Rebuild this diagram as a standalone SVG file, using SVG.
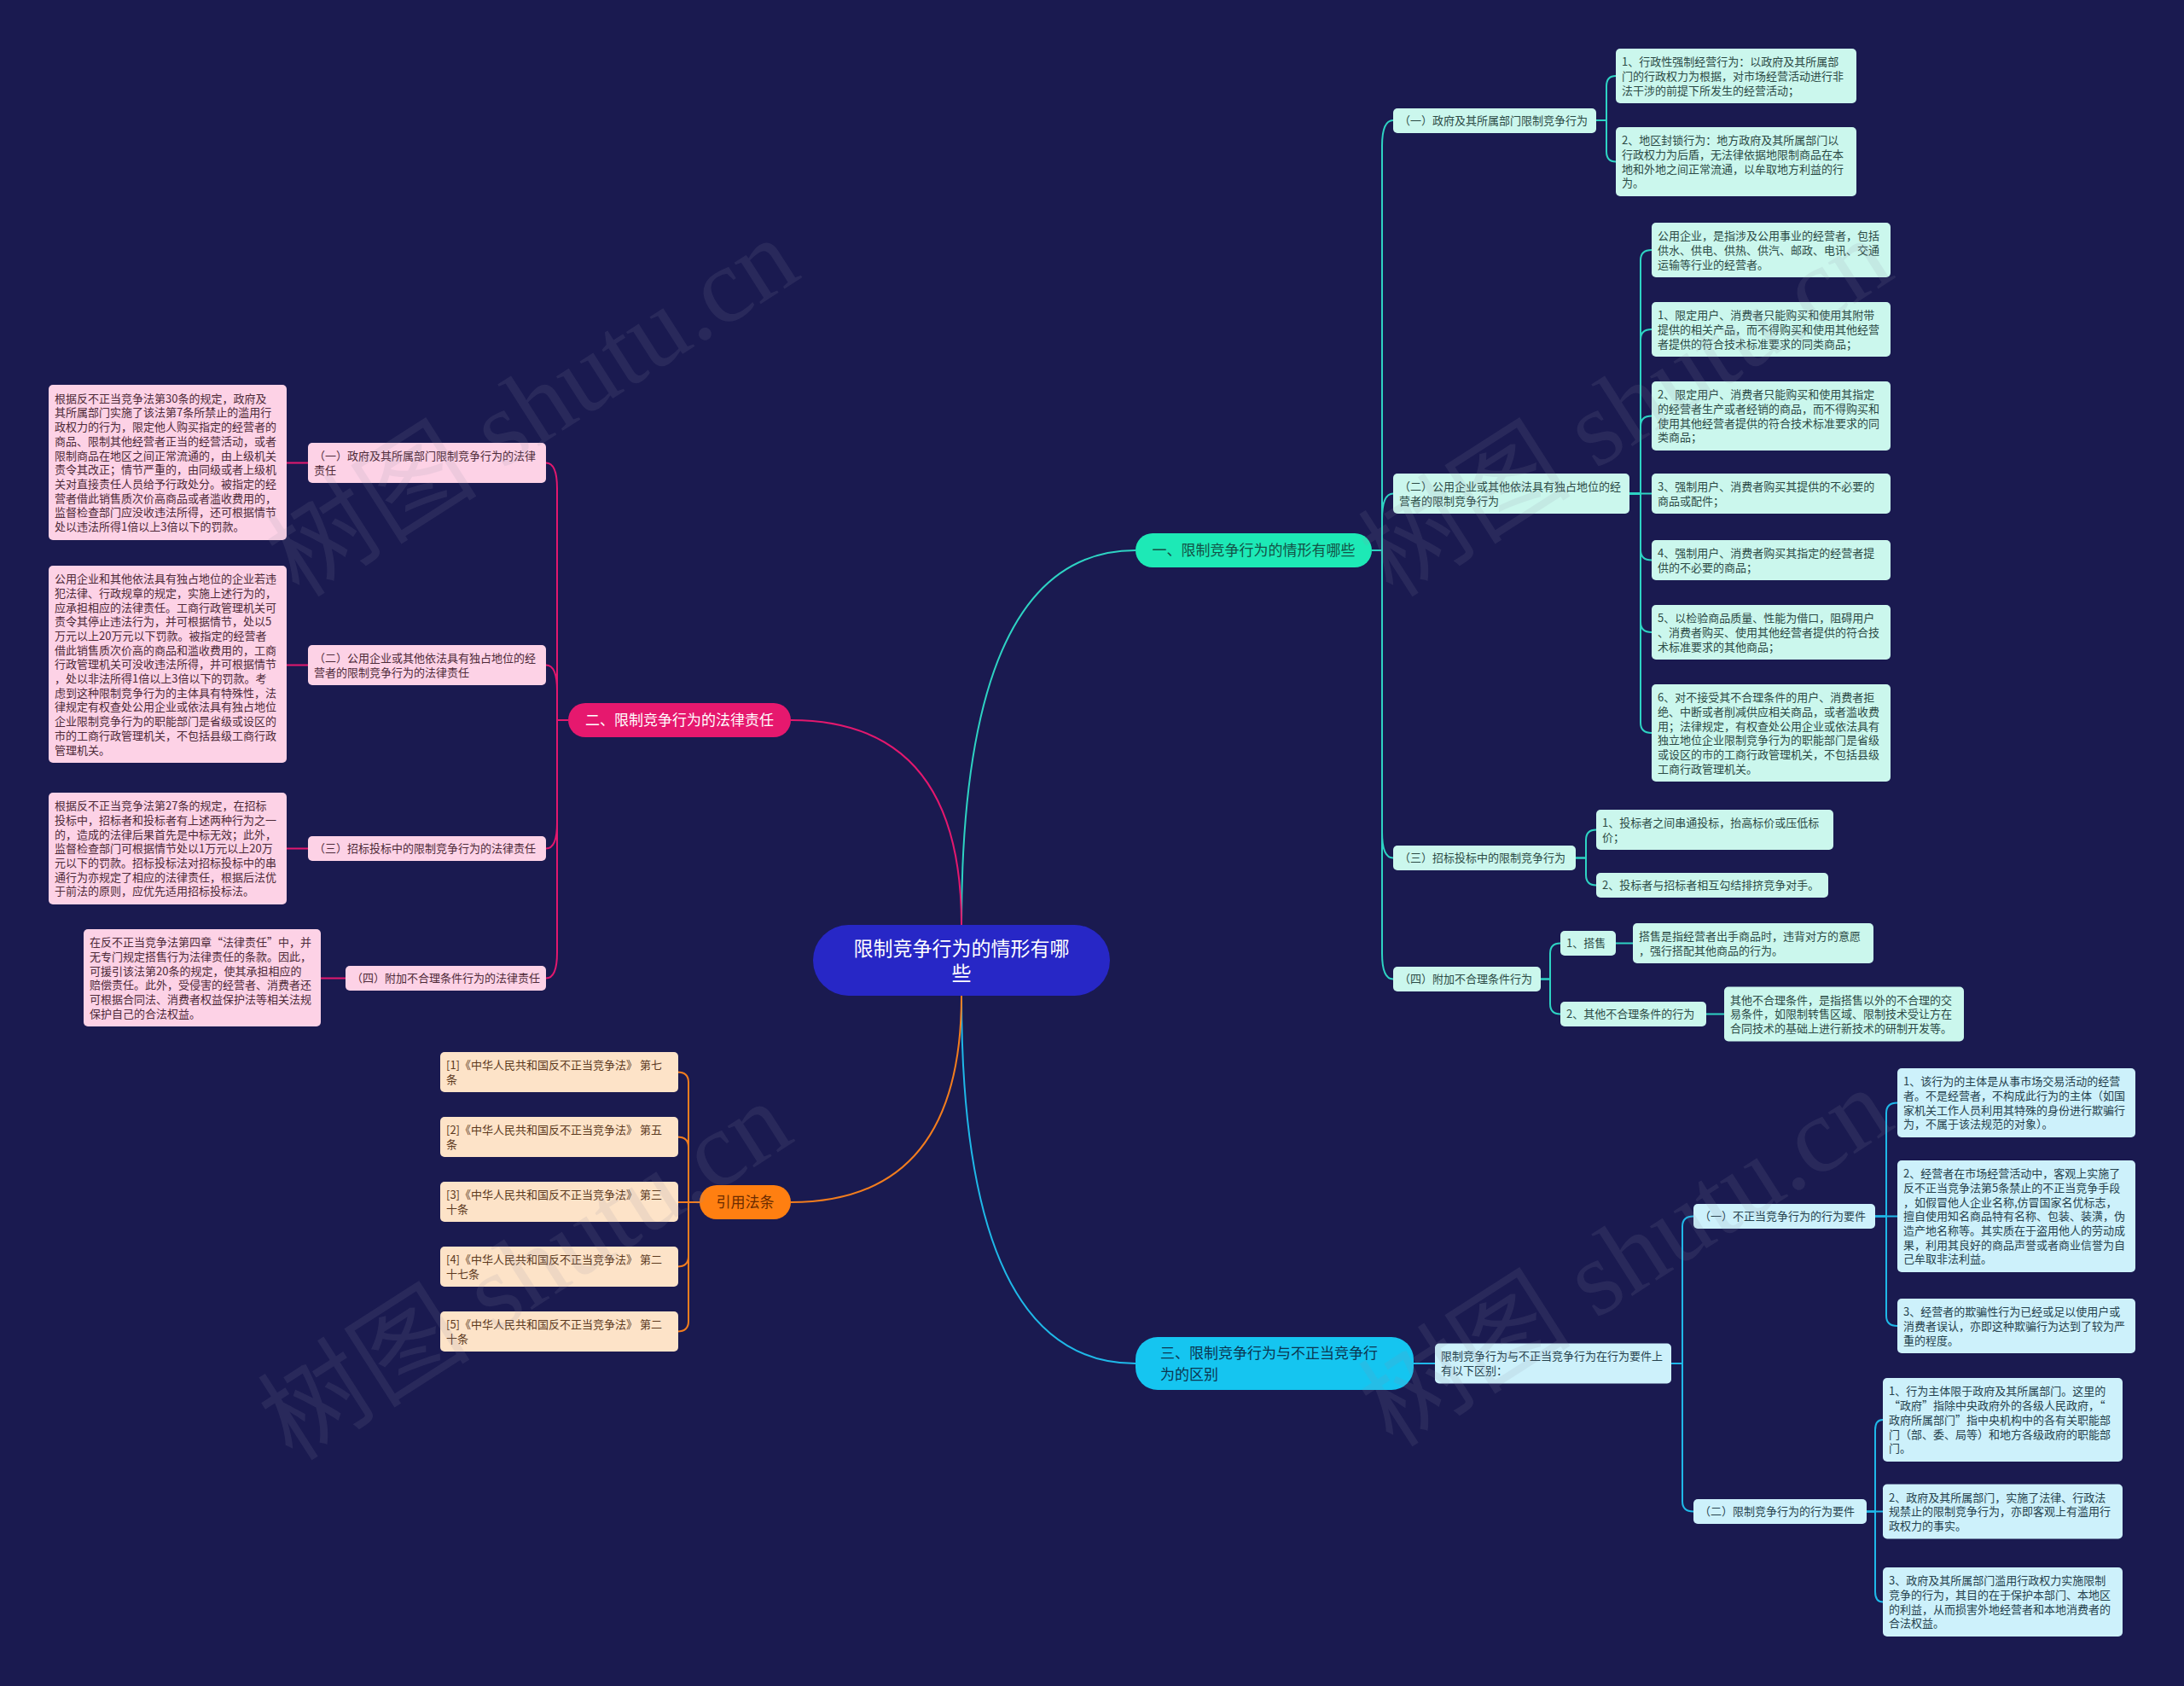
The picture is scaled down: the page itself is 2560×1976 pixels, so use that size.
<svg xmlns="http://www.w3.org/2000/svg" width="2560" height="1976" viewBox="0 0 2560 1976">
<style>
text{font-family:"Noto Sans CJK SC","Noto Sans",sans-serif}
.t{font-size:13px}
.mint{fill:#cbf7ed}.mt{fill:#2b4a45}
.cyb{fill:#cdf1fb}.ct{fill:#25414d}
.pkb{fill:#fdd2e6}.pt{fill:#4d2a38}
.orb{fill:#fde3c8}.ot{fill:#5c3a1e}
.c{fill:none;stroke-width:2}
.ct1{stroke:#2ed3c3}.ct2{stroke:#e3186e}.ct3{stroke:#1fb8e8}.ct4{stroke:#f27d1e}
text.wm{font-family:"Liberation Serif","Noto Sans CJK SC",serif;font-size:125px;fill:#9090a8;opacity:0.13}
</style>
<rect width="2560" height="1976" fill="#1a1a50"/>

<g id="connectors">
<path class="c ct1" d="M1127 1084 Q1127 645 1331 645"/>
<path class="c ct2" d="M1127 1084 Q1127 844 927 844"/>
<path class="c ct3" d="M1127 1167 Q1127 1598 1331 1598"/>
<path class="c ct4" d="M1127 1167 Q1127 1409 927 1409"/>
<path class="c ct1" d="M1608 645 H1620 V171 Q1620 141 1633 141"/>
<path class="c ct1" d="M1608 645 H1620 V608.5 Q1620 578.5 1633 578.5"/>
<path class="c ct1" d="M1608 645 H1620 V975.5 Q1620 1005.5 1633 1005.5"/>
<path class="c ct1" d="M1608 645 H1620 V1117.5 Q1620 1147.5 1633 1147.5"/>
<path class="c ct1" d="M1871 141 H1883 V101 Q1883 89 1894 89"/>
<path class="c ct1" d="M1871 141 H1883 V177.5 Q1883 189.5 1894 189.5"/>
<path class="c ct1" d="M1910 578.5 H1923 V305 Q1923 293 1936 293"/>
<path class="c ct1" d="M1910 578.5 H1923 V398 Q1923 386 1936 386"/>
<path class="c ct1" d="M1910 578.5 H1923 V499.5 Q1923 487.5 1936 487.5"/>
<path class="c ct1" d="M1910 578.5 H1936"/>
<path class="c ct1" d="M1910 578.5 H1923 V644.5 Q1923 656.5 1936 656.5"/>
<path class="c ct1" d="M1910 578.5 H1923 V729 Q1923 741 1936 741"/>
<path class="c ct1" d="M1910 578.5 H1923 V847 Q1923 859 1936 859"/>
<path class="c ct1" d="M1847 1005.5 H1859 V984.5 Q1859 972.5 1871 972.5"/>
<path class="c ct1" d="M1847 1005.5 H1859 V1025.5 Q1859 1037.5 1871 1037.5"/>
<path class="c ct1" d="M1806 1147.5 H1817 V1117.5 Q1817 1105.5 1829 1105.5"/>
<path class="c ct1" d="M1806 1147.5 H1817 V1176.5 Q1817 1188.5 1829 1188.5"/>
<path class="c ct1" d="M1894 1105.5 H1914"/>
<path class="c ct1" d="M2000 1188.5 H2021"/>
<path class="c ct3" d="M1657 1598 H1682"/>
<path class="c ct3" d="M1959 1598 H1972 V1437.5 Q1972 1425.5 1985 1425.5"/>
<path class="c ct3" d="M1959 1598 H1972 V1759.5 Q1972 1771.5 1985 1771.5"/>
<path class="c ct3" d="M2198 1425.5 H2211 V1304.5 Q2211 1292.5 2224 1292.5"/>
<path class="c ct3" d="M2198 1425.5 H2224"/>
<path class="c ct3" d="M2198 1425.5 H2211 V1542 Q2211 1554 2224 1554"/>
<path class="c ct3" d="M2188 1771.5 H2198 V1676 Q2198 1664 2207 1664"/>
<path class="c ct3" d="M2188 1771.5 H2207"/>
<path class="c ct3" d="M2188 1771.5 H2198 V1865.5 Q2198 1877.5 2207 1877.5"/>
<path class="c ct2" d="M666 844 H653 V572.5 Q653 542.5 640 542.5"/>
<path class="c ct2" d="M666 844 H653 V809.5 Q653 779.5 640 779.5"/>
<path class="c ct2" d="M666 844 H653 V964.5 Q653 994.5 640 994.5"/>
<path class="c ct2" d="M666 844 H653 V1116.5 Q653 1146.5 640 1146.5"/>
<path class="c ct2" d="M361 542.5 H336"/>
<path class="c ct2" d="M361 779.5 H336"/>
<path class="c ct2" d="M361 994.5 H336"/>
<path class="c ct2" d="M405 1146.5 H376"/>
<path class="c ct4" d="M820 1409 H807 V1268.5 Q807 1256.5 794 1256.5"/>
<path class="c ct4" d="M820 1409 H807 V1344.5 Q807 1332.5 794 1332.5"/>
<path class="c ct4" d="M820 1409 H794"/>
<path class="c ct4" d="M820 1409 H807 V1472.5 Q807 1484.5 794 1484.5"/>
<path class="c ct4" d="M820 1409 H807 V1548.5 Q807 1560.5 794 1560.5"/>
</g>

<g id="root">
<rect x="953" y="1084" width="348" height="83" rx="41.5" fill="#2727c6"/>
<text font-size="23" fill="#ffffff" text-anchor="middle"><tspan x="1127" y="1119.7">限制竞争行为的情形有哪</tspan><tspan x="1127" y="1148.7">些</tspan></text>
</g>

<g id="branch1">
<rect x="1331" y="625" width="277" height="40" rx="20" fill="#1de9b6"/>
<text x="1469.5" y="651" font-size="17" fill="#135246" text-anchor="middle">一、限制竞争行为的情形有哪些</text>
</g>
<g id="branch2">
<rect x="666" y="824" width="261" height="40" rx="20" fill="#e6186e"/>
<text x="796.5" y="850" font-size="17" fill="#ffffff" text-anchor="middle">二、限制竞争行为的法律责任</text>
</g>
<g id="branch3">
<rect x="1331" y="1567" width="326" height="62" rx="26" fill="#15c5f0"/>
<text font-size="17" fill="#0b3550"><tspan x="1360" y="1591.5">三、限制竞争行为与不正当竞争行</tspan><tspan x="1360" y="1616.5">为的区别</tspan></text>
</g>
<g id="branch4">
<rect x="820" y="1389" width="107" height="40" rx="20" fill="#ff7f11"/>
<text x="873.5" y="1415" font-size="17" fill="#6b2b00" text-anchor="middle">引用法条</text>
</g>

<g id="n1-1"><rect class="mint" x="1633" y="127" width="238" height="29" rx="5"/>
<text class="t mt" x="1640" y="146.3">（一）政府及其所属部门限制竞争行为</text></g>
<g id="n1-1-1"><rect class="mint" x="1894" y="57" width="282" height="64" rx="5"/>
<text class="t mt"><tspan x="1901" y="77.1">1、行政性强制经营行为：以政府及其所属部</tspan><tspan x="1901" y="93.8">门的行政权力为根据，对市场经营活动进行非</tspan><tspan x="1901" y="110.5">法干涉的前提下所发生的经营活动；</tspan></text></g>
<g id="n1-1-2"><rect class="mint" x="1894" y="149" width="282" height="81" rx="5"/>
<text class="t mt"><tspan x="1901" y="169.3">2、地区封锁行为：地方政府及其所属部门以</tspan><tspan x="1901" y="186">行政权力为后盾，无法律依据地限制商品在本</tspan><tspan x="1901" y="202.7">地和外地之间正常流通，以牟取地方利益的行</tspan><tspan x="1901" y="219.4">为。</tspan></text></g>

<g id="n1-2"><rect class="mint" x="1633" y="555" width="277" height="47" rx="5"/>
<text class="t mt"><tspan x="1640" y="574.95">（二）公用企业或其他依法具有独占地位的经</tspan><tspan x="1640" y="591.65">营者的限制竞争行为</tspan></text></g>
<g id="n1-2-a"><rect class="mint" x="1936" y="261" width="280" height="64" rx="5"/>
<text class="t mt"><tspan x="1943" y="281.1">公用企业，是指涉及公用事业的经营者，包括</tspan><tspan x="1943" y="297.8">供水、供电、供热、供汽、邮政、电讯、交通</tspan><tspan x="1943" y="314.5">运输等行业的经营者。</tspan></text></g>
<g id="n1-2-b"><rect class="mint" x="1936" y="354" width="280" height="64" rx="5"/>
<text class="t mt"><tspan x="1943" y="374.1">1、限定用户、消费者只能购买和使用其附带</tspan><tspan x="1943" y="390.8">提供的相关产品，而不得购买和使用其他经营</tspan><tspan x="1943" y="407.5">者提供的符合技术标准要求的同类商品；</tspan></text></g>
<g id="n1-2-c"><rect class="mint" x="1936" y="447" width="280" height="81" rx="5"/>
<text class="t mt"><tspan x="1943" y="467.3">2、限定用户、消费者只能购买和使用其指定</tspan><tspan x="1943" y="484">的经营者生产或者经销的商品，而不得购买和</tspan><tspan x="1943" y="500.7">使用其他经营者提供的符合技术标准要求的同</tspan><tspan x="1943" y="517.4">类商品；</tspan></text></g>
<g id="n1-2-d"><rect class="mint" x="1936" y="555" width="280" height="47" rx="5"/>
<text class="t mt"><tspan x="1943" y="574.95">3、强制用户、消费者购买其提供的不必要的</tspan><tspan x="1943" y="591.65">商品或配件；</tspan></text></g>
<g id="n1-2-e"><rect class="mint" x="1936" y="633" width="280" height="47" rx="5"/>
<text class="t mt"><tspan x="1943" y="652.95">4、强制用户、消费者购买其指定的经营者提</tspan><tspan x="1943" y="669.65">供的不必要的商品；</tspan></text></g>
<g id="n1-2-f"><rect class="mint" x="1936" y="709" width="280" height="64" rx="5"/>
<text class="t mt"><tspan x="1943" y="729.1">5、以检验商品质量、性能为借口，阻碍用户</tspan><tspan x="1943" y="745.8">、消费者购买、使用其他经营者提供的符合技</tspan><tspan x="1943" y="762.5">术标准要求的其他商品；</tspan></text></g>
<g id="n1-2-g"><rect class="mint" x="1936" y="802" width="280" height="114" rx="5"/>
<text class="t mt"><tspan x="1943" y="822.1">6、对不接受其不合理条件的用户、消费者拒</tspan><tspan x="1943" y="838.8">绝、中断或者削减供应相关商品，或者滥收费</tspan><tspan x="1943" y="855.5">用；法律规定，有权查处公用企业或依法具有</tspan><tspan x="1943" y="872.2">独立地位企业限制竞争行为的职能部门是省级</tspan><tspan x="1943" y="888.9">或设区的市的工商行政管理机关，不包括县级</tspan><tspan x="1943" y="905.6">工商行政管理机关。</tspan></text></g>

<g id="n1-3"><rect class="mint" x="1633" y="991" width="214" height="29" rx="5"/>
<text class="t mt" x="1640" y="1010.3">（三）招标投标中的限制竞争行为</text></g>
<g id="n1-3-1"><rect class="mint" x="1871" y="949" width="278" height="47" rx="5"/>
<text class="t mt"><tspan x="1878" y="968.95">1、投标者之间串通投标，抬高标价或压低标</tspan><tspan x="1878" y="985.65">价；</tspan></text></g>
<g id="n1-3-2"><rect class="mint" x="1871" y="1023" width="272" height="29" rx="5"/>
<text class="t mt" x="1878" y="1042.3">2、投标者与招标者相互勾结排挤竞争对手。</text></g>

<g id="n1-4"><rect class="mint" x="1633" y="1133" width="173" height="29" rx="5"/>
<text class="t mt" x="1640" y="1152.3">（四）附加不合理条件行为</text></g>
<g id="n1-4-1"><rect class="mint" x="1829" y="1091" width="65" height="29" rx="5"/>
<text class="t mt" x="1836" y="1110.3">1、搭售</text></g>
<g id="n1-4-1-1"><rect class="mint" x="1914" y="1082" width="282" height="47" rx="5"/>
<text class="t mt"><tspan x="1921" y="1101.95">搭售是指经营者出手商品时，违背对方的意愿</tspan><tspan x="1921" y="1118.65">，强行搭配其他商品的行为。</tspan></text></g>
<g id="n1-4-2"><rect class="mint" x="1829" y="1174" width="171" height="29" rx="5"/>
<text class="t mt" x="1836" y="1193.3">2、其他不合理条件的行为</text></g>
<g id="n1-4-2-1"><rect class="mint" x="2021" y="1156.5" width="281" height="64" rx="5"/>
<text class="t mt"><tspan x="2028" y="1176.6">其他不合理条件，是指搭售以外的不合理的交</tspan><tspan x="2028" y="1193.3">易条件，如限制转售区域、限制技术受让方在</tspan><tspan x="2028" y="1210">合同技术的基础上进行新技术的研制开发等。</tspan></text></g>

<g id="n3-1"><rect class="cyb" x="1682" y="1574.5" width="277" height="47" rx="5"/>
<text class="t ct"><tspan x="1689" y="1594.45">限制竞争行为与不正当竞争行为在行为要件上</tspan><tspan x="1689" y="1611.15">有以下区别：</tspan></text></g>
<g id="n3-1-1"><rect class="cyb" x="1985" y="1411" width="213" height="29" rx="5"/>
<text class="t ct" x="1992" y="1430.3">（一）不正当竞争行为的行为要件</text></g>
<g id="n3-1-1-1"><rect class="cyb" x="2224" y="1252" width="279" height="81" rx="5"/>
<text class="t ct"><tspan x="2231" y="1272.25">1、该行为的主体是从事市场交易活动的经营</tspan><tspan x="2231" y="1288.95">者。不是经营者，不构成此行为的主体（如国</tspan><tspan x="2231" y="1305.65">家机关工作人员利用其特殊的身份进行欺骗行</tspan><tspan x="2231" y="1322.35">为，不属于该法规范的对象）。</tspan></text></g>
<g id="n3-1-1-2"><rect class="cyb" x="2224" y="1360" width="279" height="131" rx="5"/>
<text class="t ct"><tspan x="2231" y="1380.2">2、经营者在市场经营活动中，客观上实施了</tspan><tspan x="2231" y="1396.9">反不正当竞争法第5条禁止的不正当竞争手段</tspan><tspan x="2231" y="1413.6">，如假冒他人企业名称,仿冒国家名优标志，</tspan><tspan x="2231" y="1430.3">擅自使用知名商品特有名称、包装、装潢，伪</tspan><tspan x="2231" y="1447">造产地名称等。其实质在于盗用他人的劳动成</tspan><tspan x="2231" y="1463.7">果，利用其良好的商品声誉或者商业信誉为自</tspan><tspan x="2231" y="1480.4">己牟取非法利益。</tspan></text></g>
<g id="n3-1-1-3"><rect class="cyb" x="2224" y="1522" width="279" height="64" rx="5"/>
<text class="t ct"><tspan x="2231" y="1542.1">3、经营者的欺骗性行为已经或足以使用户或</tspan><tspan x="2231" y="1558.8">消费者误认，亦即这种欺骗行为达到了较为严</tspan><tspan x="2231" y="1575.5">重的程度。</tspan></text></g>
<g id="n3-1-2"><rect class="cyb" x="1985" y="1757" width="203" height="29" rx="5"/>
<text class="t ct" x="1992" y="1776.3">（二）限制竞争行为的行为要件</text></g>
<g id="n3-1-2-1"><rect class="cyb" x="2207" y="1615" width="281" height="98" rx="5"/>
<text class="t ct"><tspan x="2214" y="1635.4">1、行为主体限于政府及其所属部门。这里的</tspan><tspan x="2214" y="1652.1">“政府”指除中央政府外的各级人民政府，“</tspan><tspan x="2214" y="1668.8">政府所属部门”指中央机构中的各有关职能部</tspan><tspan x="2214" y="1685.5">门（部、委、局等）和地方各级政府的职能部</tspan><tspan x="2214" y="1702.2">门。</tspan></text></g>
<g id="n3-1-2-2"><rect class="cyb" x="2207" y="1739.5" width="281" height="64" rx="5"/>
<text class="t ct"><tspan x="2214" y="1759.6">2、政府及其所属部门，实施了法律、行政法</tspan><tspan x="2214" y="1776.3">规禁止的限制竞争行为，亦即客观上有滥用行</tspan><tspan x="2214" y="1793">政权力的事实。</tspan></text></g>
<g id="n3-1-2-3"><rect class="cyb" x="2207" y="1837" width="281" height="81" rx="5"/>
<text class="t ct"><tspan x="2214" y="1857.3">3、政府及其所属部门滥用行政权力实施限制</tspan><tspan x="2214" y="1874">竞争的行为，其目的在于保护本部门、本地区</tspan><tspan x="2214" y="1890.7">的利益，从而损害外地经营者和本地消费者的</tspan><tspan x="2214" y="1907.4">合法权益。</tspan></text></g>

<g id="n2-1"><rect class="pkb" x="361" y="519" width="279" height="47" rx="5"/>
<text class="t pt"><tspan x="368" y="538.95">（一）政府及其所属部门限制竞争行为的法律</tspan><tspan x="368" y="555.65">责任</tspan></text></g>
<g id="n2-1-1"><rect class="pkb" x="57" y="451" width="279" height="182" rx="5"/>
<text class="t pt"><tspan x="64" y="471.7">根据反不正当竞争法第30条的规定，政府及</tspan><tspan x="64" y="488.4">其所属部门实施了该法第7条所禁止的滥用行</tspan><tspan x="64" y="505.1">政权力的行为，限定他人购买指定的经营者的</tspan><tspan x="64" y="521.8">商品、限制其他经营者正当的经营活动，或者</tspan><tspan x="64" y="538.5">限制商品在地区之间正常流通的，由上级机关</tspan><tspan x="64" y="555.2">责令其改正；情节严重的，由同级或者上级机</tspan><tspan x="64" y="571.9">关对直接责任人员给予行政处分。被指定的经</tspan><tspan x="64" y="588.6">营者借此销售质次价高商品或者滥收费用的，</tspan><tspan x="64" y="605.3">监督检查部门应没收违法所得，还可根据情节</tspan><tspan x="64" y="622">处以违法所得1倍以上3倍以下的罚款。</tspan></text></g>
<g id="n2-2"><rect class="pkb" x="361" y="756" width="279" height="47" rx="5"/>
<text class="t pt"><tspan x="368" y="775.95">（二）公用企业或其他依法具有独占地位的经</tspan><tspan x="368" y="792.65">营者的限制竞争行为的法律责任</tspan></text></g>
<g id="n2-2-1"><rect class="pkb" x="57" y="663" width="279" height="231" rx="5"/>
<text class="t pt"><tspan x="64" y="683.1">公用企业和其他依法具有独占地位的企业若违</tspan><tspan x="64" y="699.8">犯法律、行政规章的规定，实施上述行为的，</tspan><tspan x="64" y="716.5">应承担相应的法律责任。工商行政管理机关可</tspan><tspan x="64" y="733.2">责令其停止违法行为，并可根据情节，处以5</tspan><tspan x="64" y="749.9">万元以上20万元以下罚款。被指定的经营者</tspan><tspan x="64" y="766.6">借此销售质次价高的商品和滥收费用的，工商</tspan><tspan x="64" y="783.3">行政管理机关可没收违法所得，并可根据情节</tspan><tspan x="64" y="800">，处以非法所得1倍以上3倍以下的罚款。考</tspan><tspan x="64" y="816.7">虑到这种限制竞争行为的主体具有特殊性，法</tspan><tspan x="64" y="833.4">律规定有权查处公用企业或依法具有独占地位</tspan><tspan x="64" y="850.1">企业限制竞争行为的职能部门是省级或设区的</tspan><tspan x="64" y="866.8">市的工商行政管理机关，不包括县级工商行政</tspan><tspan x="64" y="883.5">管理机关。</tspan></text></g>
<g id="n2-3"><rect class="pkb" x="361" y="980" width="279" height="29" rx="5"/>
<text class="t pt" x="368" y="999.3">（三）招标投标中的限制竞争行为的法律责任</text></g>
<g id="n2-3-1"><rect class="pkb" x="57" y="929" width="279" height="131" rx="5"/>
<text class="t pt"><tspan x="64" y="949.2">根据反不正当竞争法第27条的规定，在招标</tspan><tspan x="64" y="965.9">投标中，招标者和投标者有上述两种行为之一</tspan><tspan x="64" y="982.6">的，造成的法律后果首先是中标无效；此外，</tspan><tspan x="64" y="999.3">监督检查部门可根据情节处以1万元以上20万</tspan><tspan x="64" y="1016">元以下的罚款。招标投标法对招标投标中的串</tspan><tspan x="64" y="1032.7">通行为亦规定了相应的法律责任，根据后法优</tspan><tspan x="64" y="1049.4">于前法的原则，应优先适用招标投标法。</tspan></text></g>
<g id="n2-4"><rect class="pkb" x="405" y="1132" width="235" height="29" rx="5"/>
<text class="t pt" x="412" y="1151.3">（四）附加不合理条件行为的法律责任</text></g>
<g id="n2-4-1"><rect class="pkb" x="98" y="1089" width="278" height="114" rx="5"/>
<text class="t pt"><tspan x="105" y="1109.1">在反不正当竞争法第四章“法律责任”中，并</tspan><tspan x="105" y="1125.8">无专门规定搭售行为法律责任的条款。因此，</tspan><tspan x="105" y="1142.5">可援引该法第20条的规定，使其承担相应的</tspan><tspan x="105" y="1159.2">赔偿责任。此外，受侵害的经营者、消费者还</tspan><tspan x="105" y="1175.9">可根据合同法、消费者权益保护法等相关法规</tspan><tspan x="105" y="1192.6">保护自己的合法权益。</tspan></text></g>

<g id="n4-1"><rect class="orb" x="516" y="1233" width="279" height="47" rx="5"/>
<text class="t ot"><tspan x="523" y="1252.95">[1]《中华人民共和国反不正当竞争法》 第七</tspan><tspan x="523" y="1269.65">条</tspan></text></g>
<g id="n4-2"><rect class="orb" x="516" y="1309" width="279" height="47" rx="5"/>
<text class="t ot"><tspan x="523" y="1328.95">[2]《中华人民共和国反不正当竞争法》 第五</tspan><tspan x="523" y="1345.65">条</tspan></text></g>
<g id="n4-3"><rect class="orb" x="516" y="1385" width="279" height="47" rx="5"/>
<text class="t ot"><tspan x="523" y="1404.95">[3]《中华人民共和国反不正当竞争法》 第三</tspan><tspan x="523" y="1421.65">十条</tspan></text></g>
<g id="n4-4"><rect class="orb" x="516" y="1461" width="279" height="47" rx="5"/>
<text class="t ot"><tspan x="523" y="1480.95">[4]《中华人民共和国反不正当竞争法》 第二</tspan><tspan x="523" y="1497.65">十七条</tspan></text></g>
<g id="n4-5"><rect class="orb" x="516" y="1537" width="279" height="47" rx="5"/>
<text class="t ot"><tspan x="523" y="1556.95">[5]《中华人民共和国反不正当竞争法》 第二</tspan><tspan x="523" y="1573.65">十条</tspan></text></g>

<g id="watermarks">
<text class="wm" x="351" y="702" transform="rotate(-32.6 351 702)">树图 shutu.cn</text>
<text class="wm" x="1633" y="702" transform="rotate(-32.6 1633 702)">树图 shutu.cn</text>
<text class="wm" x="343" y="1714" transform="rotate(-32.6 343 1714)">树图 shutu.cn</text>
<text class="wm" x="1633" y="1698" transform="rotate(-32.6 1633 1698)">树图 shutu.cn</text>
</g>
</svg>
